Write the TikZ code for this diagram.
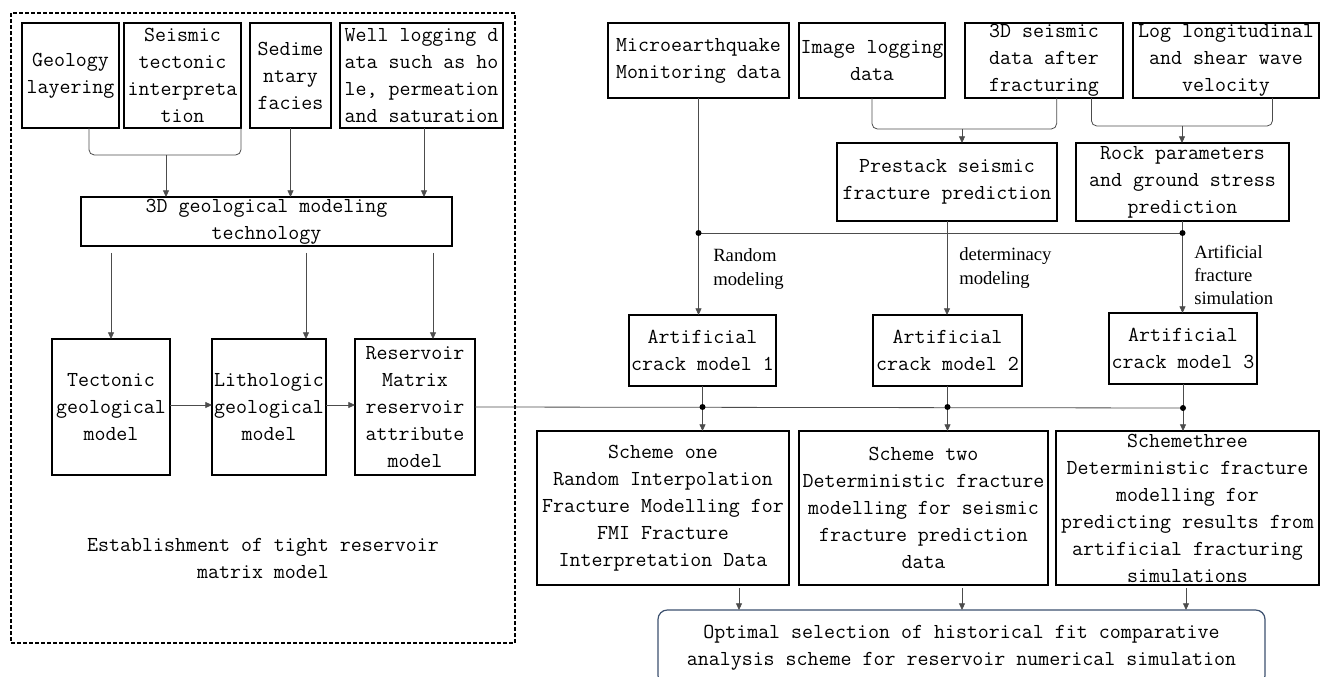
\documentclass[tikz,border=0pt]{standalone}
\usepackage{fontspec}
\setmainfont{Liberation Serif}
\usetikzlibrary{arrows.meta,calc}
\definecolor{optblue}{RGB}{60,80,110}
\begin{document}
\begin{tikzpicture}[x=0.75pt,y=-0.75pt,
  rect/.style n args={4}{minimum width={(#3-#1)*0.75pt}, minimum height={(#4-#2)*0.75pt},
    at={({(#1+#3)/2},{(#2+#4)/2})}},
  box/.style={draw=black, line width=0.9pt, inner sep=0pt, outer sep=0pt, align=center,
    font=\ttfamily\fontsize{16pt}{20.25pt}\selectfont},
  frame/.style={draw=black, line width=0.8pt, dash pattern=on 3pt off 1.5pt, inner sep=0pt},
  conn/.style={draw=black!70, line width=0.6pt},
  arr/.style={conn, -{Triangle[length=5pt,width=4.5pt]}},
  lbl/.style={font=\fontsize{14pt}{18pt}\selectfont, align=left, inner sep=0pt, anchor=west},
  dot/.style={circle, fill=black, inner sep=0pt, minimum size=4.5pt},
  note/.style={inner sep=0pt, align=center, font=\ttfamily\fontsize{16pt}{20.25pt}\selectfont}]

\useasboundingbox (0,0) rectangle (1320,677);

% ---------- left block ----------
\node[frame, rect={11}{13}{515}{643}] (frm) {};
\node[box, rect={22}{23}{119}{128}] (geo) {Geology\\layering};
\node[box, rect={124}{23}{241}{128}] (seis) {Seismic\\tectonic\\interpreta\\tion};
\node[box, rect={250}{23}{331}{128}] (sed) {Sedime\\ntary\\facies};
\node[box, rect={340}{23}{503}{128}] (well) {Well logging d\\ata such as ho\\le, permeation\\and saturation};
\node[box, rect={81}{197}{452}{246}] (tdm) {3D geological modeling\\technology};
\node[box, rect={52}{339}{170}{475}] (tect) {Tectonic\\geological\\model};
\node[box, rect={212}{339}{326}{475}] (lith) {Lithologic\\geological\\model};
\node[box, rect={355}{339}{475}{475}] (res) {Reservoir\\Matrix\\reservoir\\attribute\\model};
\node[note] (est) at (263,558.5) {Establishment of tight reservoir\\matrix model};

\draw[conn, rounded corners=4pt] ($(geo.south west)!0.69!(geo.south east)$) -- ++(0,27) -| (seis.south east);
\coordinate (jl) at (166,155);
\draw[arr] (jl) -- (jl |- tdm.north);
\draw[arr] (sed.south) -- (sed.south |- tdm.north);
\coordinate (jw) at (424,128);
\draw[arr] (jw) -- (jw |- tdm.north);

\coordinate (a1) at (111,253);
\coordinate (a2) at (306,253);
\coordinate (a3) at (433,253);
\draw[arr] (a1) -- (a1 |- tect.north);
\draw[arr] (a2) -- (a2 |- lith.north);
\draw[arr] (a3) -- (a3 |- res.north);
\draw[arr] ([yshift=1.5pt]tect.east) -- ([yshift=1.5pt]lith.west);
\draw[arr] ([yshift=1.5pt]lith.east) -- ([yshift=1.5pt]res.west);

% ---------- right block ----------
\node[box, rect={608}{23}{789}{98}] (micro) {Microearthquake\\Monitoring data};
\node[box, rect={799}{23}{945}{98}] (img) {Image logging\\data};
\node[box, rect={965}{23}{1123}{98}] (s3d) {3D seismic\\data after\\fracturing};
\node[box, rect={1133}{23}{1319}{98}] (logv) {Log longitudinal\\and shear wave\\velocity};
\node[box, rect={837}{143}{1057}{221}] (pre) {Prestack seismic\\fracture prediction};
\node[box, rect={1076}{143}{1289}{221}] (rock) {Rock parameters\\and ground stress\\prediction};
\node[box, rect={629}{315}{776}{386}] (c1) {Artificial\\crack model 1};
\node[box, rect={873}{315}{1022}{386}] (c2) {Artificial\\crack model 2};
\node[box, rect={1109}{313}{1257}{384}] (c3) {Artificial\\crack model 3};
\node[box, rect={537}{431}{789}{585}] (s1) {Scheme one\\Random Interpolation\\Fracture Modelling for\\FMI Fracture\\Interpretation Data};
\node[box, rect={799}{431}{1048}{585}] (s2) {Scheme two\\Deterministic fracture\\modelling for seismic\\fracture prediction\\data};
\node[box, rect={1056}{431}{1319}{585}] (s3) {Schemethree\\Deterministic fracture\\modelling for\\predicting results from\\artificial fracturing\\simulations};
\node[box, draw=optblue, rounded corners=7pt, rect={658}{610}{1265}{685}] (opt) {Optimal selection of historical fit comparative\\analysis scheme for reservoir numerical simulation};

% brackets into prestack and rock
\draw[conn, rounded corners=4pt] (img.south) -- ++(0,31) -| ($(s3d.south west)!0.58!(s3d.south east)$);
\coordinate (jb1) at (962,129);
\draw[arr] (jb1) -- (jb1 |- pre.north);
\draw[conn, rounded corners=4pt] ($(s3d.south west)!0.8!(s3d.south east)$) -- ++(0,28) -| ($(logv.south west)!0.75!(logv.south east)$);
\coordinate (jb2) at (1182,126);
\draw[arr] (jb2) -- (jb2 |- rock.north);

% upper distribution line
\coordinate (d1) at (micro.south |- 0,233);
\coordinate (d2) at (rock.south |- 0,233);
\draw[conn] (micro.south) -- (d1) -- (d2);
\draw[conn] (rock.south) -- (d2);
\draw[arr] (d1) -- (d1 |- c1.north);
\draw[arr] (pre.south) -- (pre.south |- c2.north);
\draw[arr] (d2) -- (d2 |- c3.north);
\node[dot] at (d1) {};
\node[dot] at (d2) {};

\node[lbl] (l1) at (713,269) {Random\\modeling};
\node[lbl] (l2) at (959,268) {determinacy\\modeling};
\node[lbl, font=\fontsize{14pt}{17.6pt}\selectfont] (l3) at (1194,275) {Artificial\\fracture\\simulation};

% lower distribution line
\coordinate (e1) at (c1.south |- 0,407);
\coordinate (e2) at (c2.south |- 0,407);
\coordinate (e3) at (c3.south |- 0,408);
\draw[conn] (res.east) -- (e3);
\draw[conn] (c1.south) -- (e1);
\draw[conn] (c2.south) -- (e2);
\draw[conn] (c3.south) -- (e3);
\draw[arr] (e1) -- (e1 |- s1.north);
\draw[arr] (e2) -- (e2 |- s2.north);
\draw[arr] (e3) -- (e3 |- s3.north);
\node[dot] at (e1) {};
\node[dot] at (e2) {};
\node[dot] at (e3) {};

\coordinate (f1) at (739,588);
\coordinate (f2) at (962,588);
\coordinate (f3) at (1186,588);
\draw[arr] (f1) -- (f1 |- opt.north);
\draw[arr] (f2) -- (f2 |- opt.north);
\draw[arr] (f3) -- (f3 |- opt.north);
\end{tikzpicture}
\end{document}
